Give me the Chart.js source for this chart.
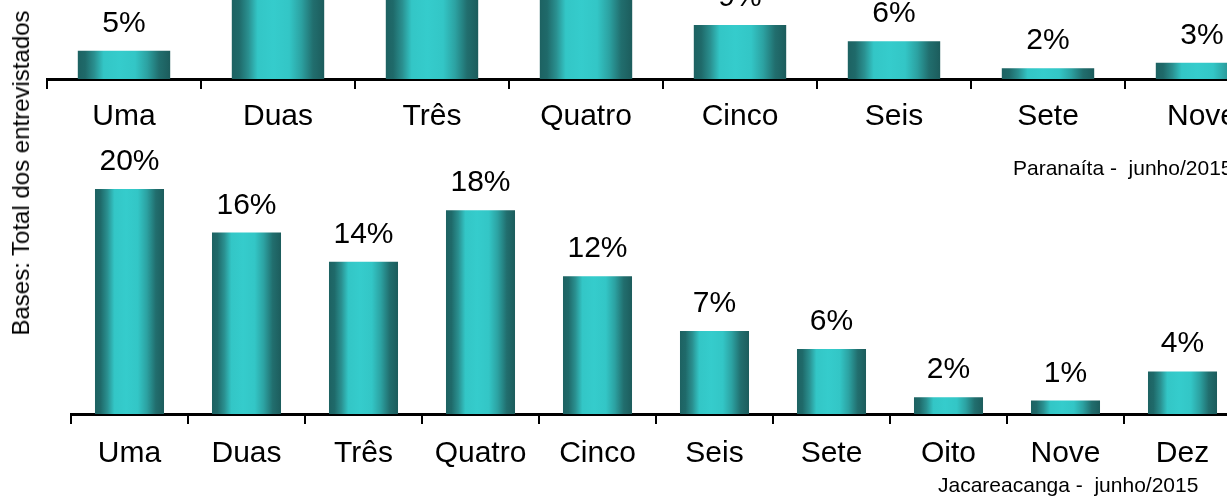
<!DOCTYPE html>
<html><head><meta charset="utf-8">
<script src="https://cdn.jsdelivr.net/npm/chart.js@4.4.1/dist/chart.umd.min.js"></script>
<style>
html,body{margin:0;padding:0;background:#fff;overflow:hidden;width:1227px;height:496px;}
body{position:relative;font-family:"Liberation Sans",Arial,sans-serif;}
canvas{position:absolute;}
#c1{left:0;top:-100px;}
#c2{left:0;top:120px;}
.t{position:absolute;white-space:pre;font-size:21px;line-height:1;color:#000;}
#yt{position:absolute;left:21px;top:173px;transform:translate(-50%,-50%) rotate(-90deg);font-size:24px;line-height:1;white-space:nowrap;color:#000;}
</style></head><body>
<canvas id="c1" width="1300" height="250"></canvas>
<canvas id="c2" width="1260" height="376"></canvas>
<div class="t" style="left:1013px;top:157px">Paranaíta -  junho/2015</div>
<div class="t" style="left:938px;top:474px">Jacareacanga -  junho/2015</div>
<div id="yt">Bases: Total dos entrevistados</div>
<script>
// Paranaíta (top chart, partially cropped in the reference)
const paraCategories = ['Uma','Duas','Três','Quatro','Cinco','Seis','Sete','Nove'];
const paraValues = [4.7, 20, 22, 19, 9.0, 6.3, 1.8, 2.7];
// Jacareacanga (bottom chart)
const jacaCategories = ['Uma','Duas','Três','Quatro','Cinco','Seis','Sete','Oito','Nove','Dez'];
const jacaValues = [20.1, 16.2, 13.6, 18.2, 12.3, 7.4, 5.8, 1.5, 1.2, 3.8];

const FONT = '"Liberation Sans", Arial, sans-serif';
const gradStops = [[0,'#1d6262'],[0.08,'#1f6a6a'],[0.18,'#2a9090'],[0.28,'#33c6c6'],[0.45,'#35cccc'],[0.62,'#33c6c6'],[0.75,'#2ca2a2'],[0.88,'#216e6e'],[1,'#1c5c5c']];

function gradFill(c){
  const chart = c.chart; const xs = chart.scales && chart.scales.x;
  if(!xs || !chart.chartArea || c.dataIndex === undefined) return '#33cccc';
  const center = xs.getPixelForValue(c.dataIndex);
  const w = (xs.right - xs.left) / chart.data.labels.length * (c.dataset.barPercentage || 0.6);
  const g = chart.ctx.createLinearGradient(center - w/2, 0, center + w/2, 0);
  gradStops.forEach(s => g.addColorStop(s[0], s[1]));
  return g;
}

const valueLabels = {
  id:'valueLabels',
  afterDatasetsDraw(chart){
    const ctx = chart.ctx; const meta = chart.getDatasetMeta(0); const data = chart.data.datasets[0].data;
    ctx.save();
    ctx.font = '30px ' + FONT; ctx.fillStyle = '#000'; ctx.textAlign = 'center'; ctx.textBaseline = 'alphabetic';
    meta.data.forEach((bar, i) => { ctx.fillText(Math.round(data[i]) + '%', bar.x, bar.y - 19); });
    ctx.restore();
  }
};

function makeChart(id, labels, values, o){
  return new Chart(document.getElementById(id), {
    type:'bar',
    data:{labels:labels, datasets:[{data:values, backgroundColor:gradFill, borderWidth:0, barPercentage:o.bar, categoryPercentage:1}]},
    options:{
      responsive:false, animation:false, devicePixelRatio:1,
      layout:{padding:{left:o.left, right:o.right, top:o.top, bottom:o.bottom}},
      plugins:{legend:{display:false}, tooltip:{enabled:false}, title:{display:false}},
      scales:{
        x:{
          grid:{display:true, offset:true, drawOnChartArea:false, drawTicks:true, tickLength:10, color:'#000', lineWidth:2},
          border:{display:true, color:'#000', width:3},
          ticks:{color:'#000', font:{family:FONT, size:30}, padding:o.pad, maxRotation:0, minRotation:0, autoSkip:false},
          afterFit(s){ s.height = 60; }
        },
        y:{display:false, min:0, max:25}
      }
    },
    plugins:[valueLabels]
  });
}

makeChart('c1', paraCategories, paraValues, {bar:0.6, left:47, right:21, top:29, bottom:11, pad:10});
makeChart('c2', jacaCategories, jacaValues, {bar:0.59, left:71, right:19, top:14, bottom:22, pad:12});
</script>
</body></html>
